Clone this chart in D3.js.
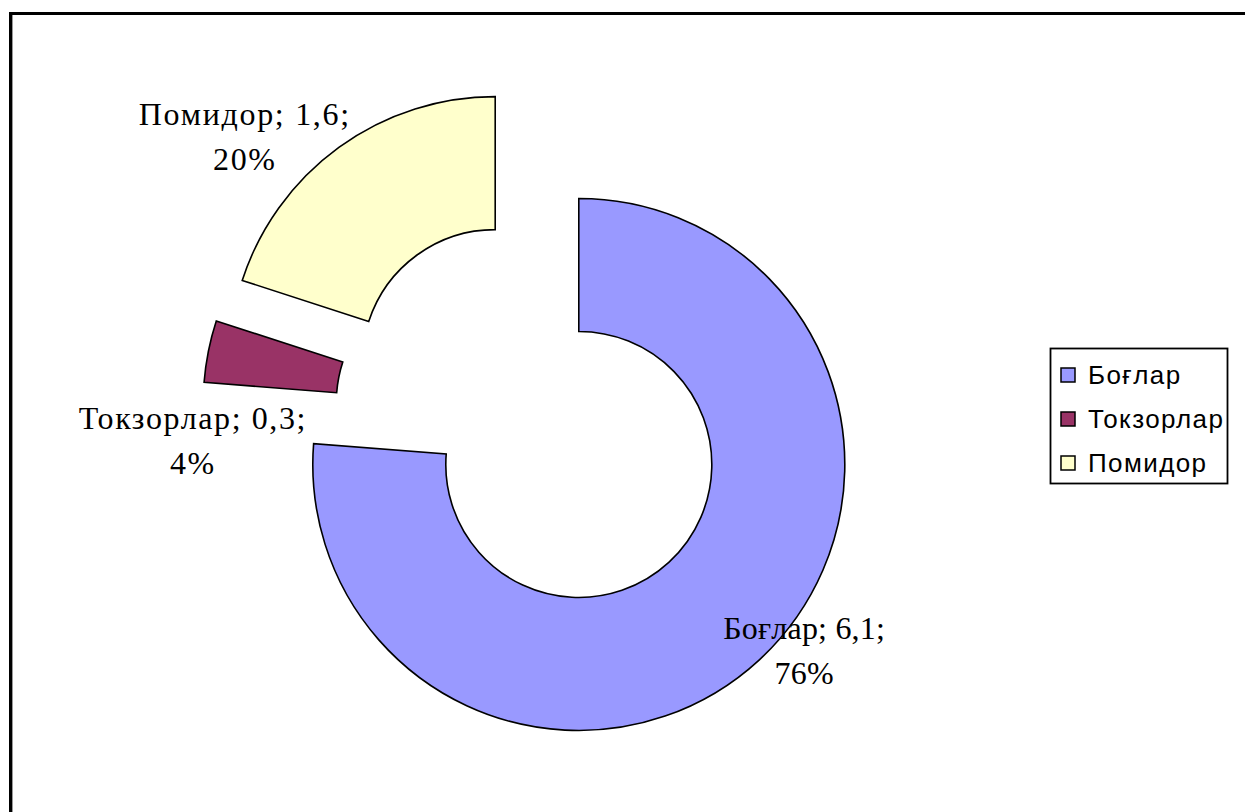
<!DOCTYPE html>
<html>
<head>
<meta charset="utf-8">
<script src="https://cdn.jsdelivr.net/npm/d3@7"></script>
<style>
  html, body { margin: 0; padding: 0; background: #fff; }
  svg { display: block; }
</style>
</head>
<body>
<svg id="chart" width="1245" height="812"></svg>
<script>
// ---- data ----
const categories = ["Боғлар", "Токзорлар", "Помидор"];
const values = [6.1, 0.3, 1.6];
const percentLabels = ["76%", "4%", "20%"];
const valueLabels = ["6,1", "0,3", "1,6"];

// ---- style / layout ----
const colors = ["#9999FF", "#993366", "#FFFFCC"];
const W = 1245, H = 812;
const cx = 534, cy = 416;
const outerR = 266, innerR = 133;
const explode = 66;
// label placement (polar, degrees clockwise from 12 o'clock, radius from pie centre)
const labelPolar = [[131, 358], [265.8, 342], [314, 402]];
const labelSpacing = [0.2, 1.6, 1.7];

const svg = d3.select("#chart");

// outer chart border (extends past the right/bottom edge as in reference)
svg.append("line").attr("x1", 9).attr("x2", W + 5).attr("y1", 13.5).attr("y2", 13.5)
  .attr("stroke", "#000").attr("stroke-width", 3);
svg.append("line").attr("x1", 10.5).attr("x2", 10.5).attr("y1", 12).attr("y2", H + 5)
  .attr("stroke", "#000").attr("stroke-width", 3);
svg.append("line").attr("x1", 12.5).attr("x2", 12.5).attr("y1", 15).attr("y2", H + 5)
  .attr("stroke", "#999").attr("stroke-width", 1);

const data = categories.map((c, i) => ({ name: c, value: values[i], i }));

const pie = d3.pie().sort(null).value(d => d.value).startAngle(0).endAngle(2 * Math.PI);
const arc = d3.arc().innerRadius(innerR).outerRadius(outerR);
const arcs = pie(data);

const g = svg.append("g").attr("transform", `translate(${cx},${cy})`);

g.selectAll("path.slice")
  .data(arcs)
  .join("path")
  .attr("class", "slice")
  .attr("d", arc)
  .attr("transform", d => {
    const a = (d.startAngle + d.endAngle) / 2;
    return `translate(${explode * Math.sin(a)},${-explode * Math.cos(a)})`;
  })
  .attr("fill", d => colors[d.data.i])
  .attr("stroke", "#000")
  .attr("stroke-width", 1.6)
  .attr("stroke-linejoin", "miter");

// data labels
g.selectAll("text.lbl")
  .data(arcs)
  .join("text")
  .attr("class", "lbl")
  .attr("font-family", "'Liberation Serif', 'Times New Roman', serif")
  .attr("font-size", 32)
  .attr("fill", "#000")
  .attr("text-anchor", "middle")
  .each(function (d) {
    const [ang, r] = labelPolar[d.data.i];
    const a = ang * Math.PI / 180;
    const x = r * Math.sin(a), y = -r * Math.cos(a);
    const t = d3.select(this).attr("letter-spacing", labelSpacing[d.data.i]);
    t.append("tspan").attr("x", x).attr("y", y - 12)
      .text(`${d.data.name}; ${valueLabels[d.data.i]};`);
    t.append("tspan").attr("x", x).attr("y", y + 33)
      .text(percentLabels[d.data.i]);
  });

// legend
const lg = svg.append("g").attr("transform", "translate(1050,348)");
lg.append("rect").attr("x", 0.5).attr("y", 0.5).attr("width", 177).attr("height", 135)
  .attr("fill", "#fff").attr("stroke", "#000").attr("stroke-width", 1.8);
const rowY = d3.scalePoint().domain(categories).range([27, 115]);
categories.forEach((c, i) => {
  const y = rowY(c);
  lg.append("rect").attr("x", 11).attr("y", y - 7).attr("width", 14).attr("height", 14)
    .attr("fill", colors[i]).attr("stroke", "#000").attr("stroke-width", 1.5);
  lg.append("text").attr("x", 38).attr("y", y).attr("dy", "0.36em")
    .attr("font-family", "'Liberation Sans', Arial, sans-serif")
    .attr("font-size", 26).attr("letter-spacing", 1.4).attr("fill", "#000")
    .text(c);
});
</script>
</body>
</html>
